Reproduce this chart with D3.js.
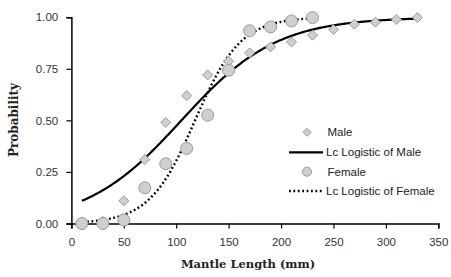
<!DOCTYPE html>
<html><head><meta charset="utf-8">
<script src="https://cdn.jsdelivr.net/npm/d3@7"></script>
<style>body{margin:0;background:#fff}svg{display:block}</style>
</head><body>
<svg id="c" width="451" height="277"></svg>
<script>
const maleL = [10,30,50,70,90,110,130,150,170,190,210,230,250,270,290,310,330];
const maleP = [0.005,0.01,0.11,0.31,0.49,0.62,0.72,0.787,0.827,0.856,0.88,0.913,0.94,0.966,0.976,0.989,0.998];
const femaleL = [10,30,50,70,90,110,130,150,170,190,210,230];
const femaleP = [0.0,0.0,0.017,0.173,0.29,0.364,0.525,0.743,0.934,0.953,0.982,0.998];
// fitted logistic parameters
const maleFit = {r:0.022, L50:105, from:10, to:330};
const femaleFit = {r:0.046, L50:118, from:15, to:228};
const xTicks = [0,50,100,150,200,250,300,350];
const yTicks = [0,0.25,0.5,0.75,1];
const legendLabels = ["Male","Lc Logistic of Male","Female","Lc Logistic of Female"];

const svg = d3.select("#c");
const x = d3.scaleLinear().domain([0,350]).range([71.4,438.3]);
const y = d3.scaleLinear().domain([0,1]).range([223.5,17.2]);
const tickFont = "'Liberation Sans', Arial, sans-serif";
const titleFont = "'DejaVu Serif', 'Liberation Serif', serif";

// axes
const xa = svg.append("g").attr("transform",`translate(0,${y(0)})`)
  .call(d3.axisBottom(x).tickValues(xTicks).tickFormat(d3.format("d")).tickSizeOuter(0).tickSize(5));
const ya = svg.append("g").attr("transform",`translate(${x(0)},0)`)
  .call(d3.axisLeft(y).tickValues(yTicks).tickFormat(d3.format(".2f")).tickSizeOuter(0).tickSize(5));
[xa,ya].forEach(a=>{
  a.select(".domain").attr("stroke","#000").attr("stroke-width",1.5);
  a.selectAll(".tick line").attr("stroke","#000").attr("stroke-width",1.2);
  a.selectAll("text").attr("font-family",tickFont).attr("font-size",11.5).attr("fill","#333");
});
xa.selectAll("text").attr("dy","1.25em");
ya.selectAll("text").attr("dx","-0.45em");

// logistic curves
function curve(f){
  const pts=[]; for(let L=f.from; L<=f.to; L+=1) pts.push([L, 1/(1+Math.exp(-f.r*(L-f.L50)))]);
  return pts;
}
const line = d3.line().x(d=>x(d[0])).y(d=>y(d[1]));
svg.append("path").attr("d",line(curve(maleFit))).attr("fill","none").attr("stroke","#000").attr("stroke-width",2.2);
svg.append("path").attr("d",line(curve(femaleFit))).attr("fill","none").attr("stroke","#000").attr("stroke-width",2.4).attr("stroke-dasharray","1.8,2.6").attr("stroke-linecap","butt");

// points
function drawDiamond(g,cx,cy,s){
  g.append("path").attr("d",`M${cx},${cy-s}L${cx+s},${cy}L${cx},${cy+s}L${cx-s},${cy}Z`)
   .attr("fill","#cfcfcf").attr("stroke","#9a9a9a").attr("stroke-width",1);
}
const gm = svg.append("g");
maleL.forEach((L,i)=>drawDiamond(gm,x(L),y(maleP[i]),5));
svg.append("g").selectAll("circle").data(femaleL).join("circle")
  .attr("cx",d=>x(d)).attr("cy",(d,i)=>y(femaleP[i])).attr("r",6)
  .attr("fill","#cfcfcf").attr("stroke","#9a9a9a").attr("stroke-width",1);

// legend
const lg = svg.append("g");
const rows=[132.3,152.3,171.7,191];
drawDiamond(lg,307,rows[0],4);
lg.append("line").attr("x1",289).attr("x2",323).attr("y1",rows[1]).attr("y2",rows[1]).attr("stroke","#000").attr("stroke-width",2.2);
lg.append("circle").attr("cx",307).attr("cy",rows[2]).attr("r",4.5).attr("fill","#cfcfcf").attr("stroke","#9a9a9a");
lg.append("line").attr("x1",289).attr("x2",323).attr("y1",rows[3]).attr("y2",rows[3]).attr("stroke","#000").attr("stroke-width",2.4).attr("stroke-dasharray","1.8,2.6");
legendLabels.forEach((t,i)=>{
  lg.append("text").attr("x",i%2===0?327.5:326).attr("y",rows[i]).attr("dy","0.35em")
    .attr("font-family",tickFont).attr("font-size",11.5).attr("fill","#222").text(t);
});

// titles
svg.append("text").attr("x",248).attr("y",268).attr("text-anchor","middle")
  .attr("font-family",titleFont).attr("font-weight","bold").attr("font-size",11.5).attr("fill","#222").text("Mantle Length (mm)");
svg.append("text").attr("transform","translate(18,120) rotate(-90)").attr("text-anchor","middle")
  .attr("font-family",titleFont).attr("font-weight","bold").attr("font-size",12).attr("fill","#222").text("Probability");
</script>
</body></html>
